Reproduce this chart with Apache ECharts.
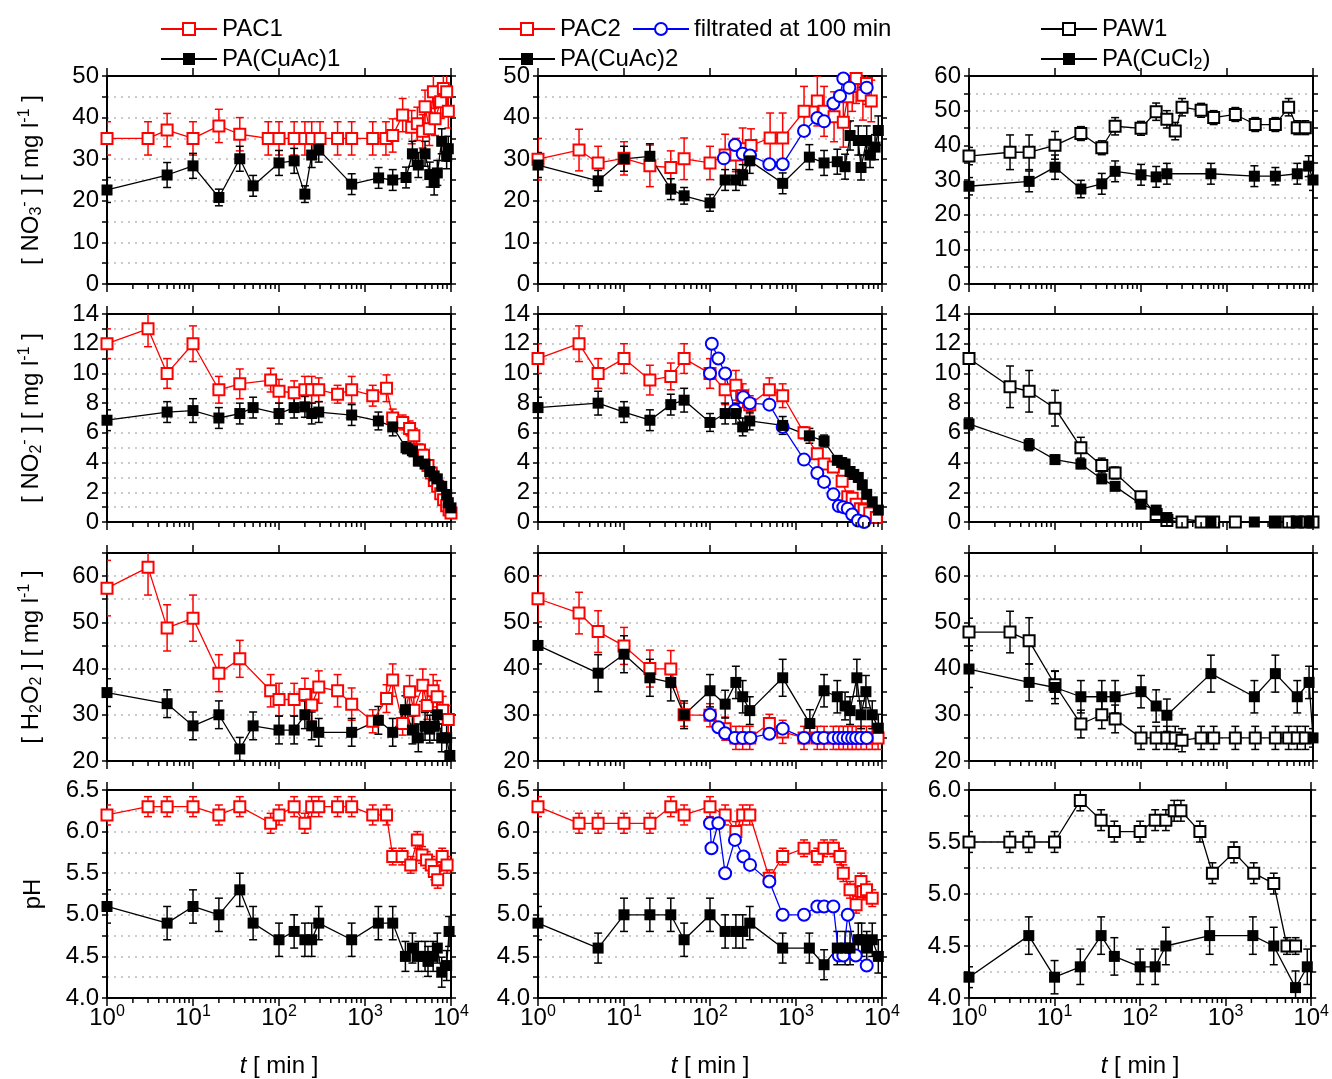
<!DOCTYPE html>
<html>
<head>
<meta charset="utf-8">
<script src="https://cdn.jsdelivr.net/npm/echarts@6/dist/echarts.min.js"></script>
<style>
html, body { margin: 0; padding: 0; background: #fff; }
#chart { width: 1332px; height: 1079px; }
</style>
</head>
<body>
<div id="chart"></div>
<script>
// ---- data: [time (min), value, error] ----
// nitrate
const no3_pac1 = [[1,35,4],[3,35,4],[5,37,4],[10,35,4],[20,38,4],[35,36,4],[75,35,4],[100,35,4],[150,35,4],[200,35,4],[240,35,4],[300,35,4],[480,35,4],[700,35,4],[1230,35,4],[1750,35,4],[2100,35.7,4],[2740,40.6,4],[3490,37.7,4],[4060,38.5,4],[4690,36.7,4],[4990,42.6,4],[5600,37.3,4],[6240,46.2,4],[6520,39.7,4],[7590,43.8,4],[8150,47,4],[8910,46.2,4],[9310,41.5,4]];
const no3_cuac1 = [[1,22.6,3],[5,26.2,3],[10,28.4,3],[20,20.8,2],[35,30.1,3],[50,23.6,2.5],[100,29.1,3],[150,29.6,3],[200,21.6,2],[240,31,3],[290,32.3,3],[700,24,2.5],[1440,25.5,2.5],[2100,25,2.5],[3000,25.6,2.5],[3560,31.3,3],[4170,28.6,3],[4990,31.3,3],[5660,26.3,3],[6370,24.4,3],[6930,26.7,3],[7800,34.3,3],[8900,30.7,3],[9300,32.5,3]];
const no3_pac2 = [[1,30,5],[3,32.2,5],[5,29.1,4],[10,30.2,4],[20,28.4,5],[35,28,4],[50,30.1,5],[100,29.1,4],[150,31,5],[200,31,4],[240,32.5,5],[300,33.3,4],[500,35.1,6],[700,35.1,6],[1240,41.5,6],[1770,44,6],[2120,41.5,6],[2770,40.2,6],[3550,38.9,6],[4000,45,6],[4500,47.5,6],[5000,49.4,6],[6000,45.4,6],[6600,48.2,5],[7500,44,5]];
const no3_filt = [[145,30.2],[195,33.4],[240,31.3],[292,30.9],[490,28.8],[700,28.8],[1240,36.8],[1770,39.9],[2120,39.1],[2720,43.4],[3250,45.2],[3550,49.4],[4170,47.2],[6640,47.2]];
const no3_cuac2 = [[1,28.6,3],[5,24.8,2.5],[10,30.1,3],[20,30.7,3],[35,22.8,2.5],[50,21.2,2],[100,19.5,2],[150,25,2.5],[200,25,2.5],[240,26.2,2.5],[290,29.6,3],[700,24.2,2.5],[1430,30.5,3],[2120,29.1,3],[3020,29.4,3],[3720,28.2,3],[4250,35.7,3.5],[5300,34.5,3.5],[5700,28,3],[6640,34.5,3.5],[7250,31,3],[8300,32.9,3],[9060,36.9,3.5]];
const no3_paw1 = [[1,36.9,2.5],[3,38,5],[5,38,5],[10,40,4],[20,43.4,2],[35,39.3,2],[50,45.5,2.5],[100,44.9,2],[150,49.7,2.5],[200,47.5,2.5],[250,44.1,2.5],[300,51,2.5],[500,50.1,2],[700,48,2],[1250,48.9,2],[2130,46,2],[3650,46,2],[5210,51,2.5],[6560,45.1,2],[8130,45.1,2]];
const no3_cucl2 = [[1,28.2,2.5],[5,29.6,3],[10,33.7,3.5],[20,27.4,2.5],[35,28.9,3],[50,32.5,3],[100,31.5,3],[150,30.9,3],[200,31.8,3],[650,31.8,3],[2080,31.1,3],[3650,31.1,2.5],[6560,31.8,3],[8900,34,3],[10000,30,3]];

// nitrite
const no2_pac1 = [[1,12,1],[3,13,1.2],[5,10,1],[10,12,1.2],[20,8.9,0.9],[35,9.3,1],[80,9.55,0.8],[100,8.8,0.8],[150,8.7,0.8],[200,8.9,0.9],[240,8.9,0.9],[290,8.9,0.8],[480,8.6,0.6],[700,8.9,0.9],[1230,8.5,0.7],[1780,9,0.9],[2100,7,0.6],[2740,6.7,0.5],[3300,6.3,0.5],[3700,5.8,0.5],[4300,4.85,0.4],[4800,4.5,0.4],[5400,3.8,0.3],[5900,3.3,0.3],[6400,2.8,0.3],[7000,2.4,0.3],[7600,1.9,0.2],[8200,1.5,0.2],[8900,1.1,0.2],[9500,0.8,0.2],[10000,0.6,0.2]];
const no2_cuac1 = [[1,6.85,0.7],[5,7.4,0.7],[10,7.5,0.8],[20,7,0.7],[35,7.3,0.7],[50,7.7,0.7],[100,7.3,0.7],[150,7.7,0.7],[200,7.75,0.7],[240,7.3,0.7],[290,7.4,0.7],[700,7.2,0.7],[1430,6.8,0.6],[2100,6.4,0.6],[3000,5,0.4],[3560,4.8,0.4],[4170,4.1,0.3],[4990,3.9,0.3],[5660,3.4,0.3],[6370,3.1,0.3],[6930,2.9,0.3],[7800,2.4,0.3],[8900,1.85,0.2],[9300,1.3,0.2],[10000,0.95,0.2]];
const no2_pac2 = [[1,11,1],[3,12,1.2],[5,10,1],[10,11,1],[20,9.55,1],[35,9.8,0.9],[50,11,1],[100,10,1],[150,8.9,1],[200,9.2,1],[240,8.5,0.8],[290,7.9,0.6],[490,8.9,0.8],[700,8.5,0.8],[1240,6,0.4],[1770,4.6,0.3],[2120,3.9,0.3],[2720,3.7,0.3],[3440,2.75,0.3],[4000,1.7,0.2],[4500,1.6,0.2],[5000,1.2,0.2],[5600,0.9,0.2],[6200,0.8,0.2],[7200,0.6,0.2],[8600,0.3,0.2]];
const no2_filt = [[100,10],[105,12],[125,11],[150,10],[195,7.5],[244,8.4],[290,8],[490,7.9],[700,6.4],[1240,4.2],[1770,3.3],[2120,2.7],[2720,1.86],[3150,1.07],[3550,1],[4000,0.9],[4500,0.5],[5260,0.1],[6200,0]];
const no2_cuac2 = [[1,7.7,0.7],[5,8,0.8],[10,7.4,0.7],[20,6.85,0.7],[35,7.9,0.7],[50,8.2,0.8],[100,6.7,0.6],[150,7.3,0.7],[200,7.3,0.7],[240,6.4,0.6],[290,6.8,0.6],[700,6.5,0.6],[1430,5.8,0.5],[2120,5.45,0.4],[3020,4.15,0.3],[3400,4,0.3],[3720,3.9,0.3],[4250,3.4,0.3],[4700,3.2,0.3],[5300,3,0.3],[5900,2.5,0.3],[6640,1.86,0.2],[7700,1.36,0.2],[9060,0.8,0.2]];
const no2_paw1 = [[1,11,0],[3,9.1,1.4],[5,8.8,1.4],[10,7.66,1.2],[20,5,0.7],[35,3.8,0.5],[50,3.3,0.4],[100,1.7,0.3],[150,0.5,0.2],[200,0.1,0],[300,0,0],[500,0,0],[700,0,0],[1250,0,0],[3650,0,0],[5210,0,0],[6560,0,0],[8130,0,0],[10000,0,0]];
const no2_cucl2 = [[1,6.6,0.4],[5,5.2,0.4],[10,4.2,0.3],[20,3.9,0.3],[35,2.9,0.2],[50,2.4,0.2],[100,1.2,0.2],[150,0.8,0.2],[200,0.3,0.1],[650,0,0],[2080,0,0],[3650,0,0],[6560,0,0],[9000,0,0]];

// hydrogen peroxide
const h2o2_pac1 = [[1,57.4,6],[3,61.9,6],[5,48.8,5],[10,50.9,5],[20,39,4],[35,42.1,4],[80,35.2,3.5],[100,33.3,3.5],[150,33.3,3.5],[200,34.4,3.5],[240,32.1,3.5],[290,36,3.5],[480,35.2,3.5],[700,32.3,3.5],[1230,28.6,2.5],[1780,33.5,3],[2100,37.5,3.5],[2740,28.1,2.5],[3300,35,3.5],[3700,31,3],[4700,36.4,3.5],[5300,32,3],[6200,35.2,3.5],[6900,33.9,3.5],[8000,31,3],[9300,29,3]];
const h2o2_cuac1 = [[1,34.8,3],[5,32.4,3],[10,27.6,3],[20,30,3],[35,22.6,2.5],[50,27.6,3],[100,26.7,3],[150,26.7,3],[200,30,3],[240,27.6,3],[290,26.2,3],[700,26.2,3],[1430,28.8,3],[2100,26.2,3],[2950,31.1,3],[3560,26.7,3],[4170,25,3],[4990,27.5,3],[5660,26.9,3],[6370,27.5,3],[6930,30,3],[7800,25,3],[8900,25,3],[9700,21.2,3]];
const h2o2_pac2 = [[1,55.1,5],[3,52,4.5],[5,48,4.5],[10,44.9,4],[20,40,4],[35,39.9,4],[50,30,2.5],[100,29.9,2.5],[150,27,2.5],[200,25,2.5],[240,25,2.5],[290,25,2.5],[490,28.1,2],[700,26.3,2.5],[1240,25,2.5],[1770,25,2.5],[2120,25,2.5],[2720,25,2.5],[3150,25,2.5],[3550,25,2.5],[4000,25,2.5],[4500,25,2.5],[5000,25,2.5],[5700,25,2.5],[6600,25,2.5],[7700,25,2.5],[9000,25,2.5]];
const h2o2_filt = [[100,30],[125,27.3],[150,26],[195,25],[240,25],[295,25],[490,25.9],[700,27],[1240,25],[1770,25],[2120,25],[2720,25],[3150,25],[3550,25],[4000,25],[4500,25],[5000,25],[5700,25],[6640,25]];
const h2o2_cuac2 = [[1,45,4],[5,39,4],[10,43.1,4],[20,38,4],[35,37,4],[50,30,3],[100,35.2,3.5],[150,32.3,3],[200,37,3.5],[240,33.9,3.5],[290,30.9,3],[700,38,4],[1450,28.1,3],[2120,35.2,3.5],[3020,33.9,3.5],[3720,31.9,3],[4250,30.9,3],[5100,38,4],[5700,30,3],[6500,35,3.5],[7700,30,3],[9060,27.1,3]];
const h2o2_paw1 = [[1,47.9,3],[3,47.9,4.5],[5,46,5],[10,36.5,3],[20,28,3],[35,30,3],[50,29.1,3],[100,25,2.5],[150,25,2.5],[200,25,2.5],[250,25,2.5],[300,24.5,2.5],[500,25,2.5],[700,25,2.5],[1250,25,2.5],[2130,25,2.5],[3650,25,2.5],[5210,25,2.5],[6560,25,2.5],[8130,25,2.5]];
const h2o2_cucl2 = [[1,39.9,4],[5,37,4],[10,35.9,3.5],[20,33.9,3.5],[35,33.9,3.5],[50,33.9,3.5],[100,35,3.5],[150,31.9,3.5],[200,29.9,3.5],[650,38.9,4],[2080,33.9,3.5],[3650,38.9,4],[6560,33.9,3.5],[9000,37,3.5],[10000,25,2]];

// pH
const ph_pac1 = [[1,6.2,0.12],[3,6.3,0.12],[5,6.3,0.12],[10,6.3,0.12],[20,6.2,0.12],[35,6.3,0.12],[80,6.1,0.12],[100,6.2,0.12],[150,6.3,0.12],[200,6.1,0.12],[240,6.3,0.12],[290,6.3,0.12],[480,6.3,0.12],[700,6.3,0.12],[1230,6.2,0.12],[1780,6.2,0.12],[2100,5.7,0.1],[2700,5.7,0.1],[3400,5.6,0.1],[4060,5.9,0.1],[4600,5.72,0.1],[5200,5.66,0.1],[5900,5.6,0.1],[6400,5.52,0.1],[7000,5.42,0.1],[7900,5.7,0.1],[9000,5.6,0.1]];
const ph_cuac1 = [[1,5.1,0.2],[5,4.9,0.2],[10,5.1,0.2],[20,5,0.2],[35,5.3,0.2],[50,4.9,0.2],[100,4.7,0.2],[150,4.8,0.2],[200,4.7,0.2],[240,4.7,0.2],[290,4.9,0.2],[700,4.7,0.2],[1430,4.9,0.2],[2100,4.9,0.2],[2950,4.5,0.18],[3560,4.6,0.18],[4170,4.5,0.18],[4990,4.5,0.18],[5400,4.44,0.18],[6200,4.5,0.18],[6930,4.6,0.18],[7800,4.31,0.18],[8900,4.39,0.18],[9500,4.8,0.18]];
const ph_pac2 = [[1,6.3,0.12],[3,6.1,0.12],[5,6.1,0.12],[10,6.1,0.12],[20,6.1,0.12],[35,6.3,0.12],[50,6.2,0.12],[100,6.3,0.12],[150,6.2,0.12],[200,6,0.12],[240,6.2,0.12],[290,6.2,0.12],[490,5.44,0.1],[700,5.7,0.1],[1240,5.8,0.1],[1770,5.7,0.1],[2120,5.8,0.1],[2720,5.8,0.1],[3250,5.7,0.1],[3550,5.5,0.1],[4250,5.3,0.1],[5000,5.12,0.1],[5700,5.4,0.1],[6000,5.28,0.1],[6600,5.3,0.1],[7700,5.2,0.1]];
const ph_filt = [[100,6.1],[104,5.8],[125,6.1],[150,5.5],[195,5.9],[245,5.7],[292,5.6],[490,5.4],[700,5],[1240,5],[1770,5.1],[2120,5.1],[2720,5.1],[3150,4.51],[3550,4.51],[4000,5],[4950,4.51],[6640,4.39]];
const ph_cuac2 = [[1,4.9,0.2],[5,4.6,0.18],[10,5,0.2],[20,5,0.2],[35,5,0.2],[50,4.7,0.2],[100,5,0.2],[150,4.8,0.2],[200,4.8,0.2],[240,4.8,0.2],[290,4.9,0.2],[700,4.6,0.18],[1430,4.6,0.18],[2120,4.4,0.18],[3020,4.6,0.2],[3720,4.6,0.2],[4250,4.6,0.2],[5300,4.7,0.2],[5800,4.7,0.2],[6640,4.6,0.2],[7700,4.7,0.2],[9060,4.5,0.2]];
const ph_paw1 = [[1,5.5,0.1],[3,5.5,0.1],[5,5.5,0.1],[10,5.5,0.1],[20,5.9,0.1],[35,5.71,0.1],[50,5.6,0.1],[100,5.6,0.1],[150,5.71,0.1],[200,5.71,0.1],[250,5.8,0.1],[300,5.8,0.1],[500,5.6,0.1],[700,5.2,0.1],[1250,5.4,0.1],[2130,5.2,0.1],[3650,5.1,0.1],[5210,4.5,0.08],[6560,4.5,0.08]];
const ph_cucl2 = [[1,4.2,0.1],[5,4.6,0.18],[10,4.2,0.16],[20,4.3,0.17],[35,4.6,0.18],[50,4.4,0.18],[100,4.3,0.17],[150,4.3,0.17],[200,4.5,0.18],[650,4.6,0.18],[2080,4.6,0.18],[3650,4.5,0.18],[6560,4.1,0.16],[9000,4.3,0.17]];

// minor ticks of the log time axis
const minorTicks = [2,3,4,5,6,7,8,9,20,30,40,50,60,70,80,90,200,300,400,500,600,700,800,900,2000,3000,4000,5000,6000,7000,8000,9000];

// ---- layout ----
const FONT = 'Liberation Sans, Arial, Helvetica, sans-serif';
const lefts = [107, 538, 969];
const tops = [76, 314, 553, 790];
const W = 344, H = 208;

const rows = [
  { min: 0, max: [50, 50, 60], step: 5, lab: 10, dec: 0, title: '[ NO{sub|3}{sup|-} ] [ mg l{sup|-1} ]' },
  { min: 0, max: [14, 14, 14], step: 1, lab: 2, dec: 0, title: '[ NO{sub|2}{sup|-} ] [ mg l{sup|-1} ]' },
  { min: 20, max: [65, 65, 65], step: 5, lab: 10, dec: 0, title: '[ H{sub|2}O{sub|2} ] [ mg l{sup|-1} ]' },
  { min: 4, max: [6.5, 6.5, 6], step: 0.25, lab: 0.5, dec: 1, title: 'pH' }
];

const panels = [
  [
    [['PAC1', no3_pac1, 'red'], ['PA(CuAc)1', no3_cuac1, 'black']],
    [['PAC2', no3_pac2, 'red'], ['filtrated at 100 min', no3_filt, 'blue'], ['PA(CuAc)2', no3_cuac2, 'black']],
    [['PAW1', no3_paw1, 'open'], ['PA(CuCl2)', no3_cucl2, 'black']]
  ],
  [
    [['PAC1', no2_pac1, 'red'], ['PA(CuAc)1', no2_cuac1, 'black']],
    [['PAC2', no2_pac2, 'red'], ['filtrated at 100 min', no2_filt, 'blue'], ['PA(CuAc)2', no2_cuac2, 'black']],
    [['PAW1', no2_paw1, 'open'], ['PA(CuCl2)', no2_cucl2, 'black']]
  ],
  [
    [['PAC1', h2o2_pac1, 'red'], ['PA(CuAc)1', h2o2_cuac1, 'black']],
    [['PAC2', h2o2_pac2, 'red'], ['filtrated at 100 min', h2o2_filt, 'blue'], ['PA(CuAc)2', h2o2_cuac2, 'black']],
    [['PAW1', h2o2_paw1, 'open'], ['PA(CuCl2)', h2o2_cucl2, 'black']]
  ],
  [
    [['PAC1', ph_pac1, 'red'], ['PA(CuAc)1', ph_cuac1, 'black']],
    [['PAC2', ph_pac2, 'red'], ['filtrated at 100 min', ph_filt, 'blue'], ['PA(CuAc)2', ph_cuac2, 'black']],
    [['PAW1', ph_paw1, 'open'], ['PA(CuCl2)', ph_cucl2, 'black']]
  ]
];

const STY = {
  red:   { color: '#ff0000', symbol: 'emptyRect', size: 11 },
  black: { color: '#000000', symbol: 'rect', size: 11 },
  open:  { color: '#000000', symbol: 'emptyRect', size: 11 },
  blue:  { color: '#0000ff', symbol: 'emptyCircle', size: 12 }
};

const rich = {
  sup: { fontSize: 16, fontFamily: FONT, color: '#000', padding: [0, 0, 12, 0] },
  sub: { fontSize: 16, fontFamily: FONT, color: '#000', padding: [12, 0, 0, 0] },
  i: { fontSize: 24, fontFamily: FONT, color: '#000', fontStyle: 'italic' }
};

function renderErr(params, api) {
  const t = api.value(0), v = api.value(1), e = api.value(2);
  if (!(e > 0)) return;
  const a = api.coord([t, v + e]);
  const b = api.coord([t, v - e]);
  const st = { stroke: api.visual('color'), lineWidth: 1.5 };
  return {
    type: 'group',
    children: [
      { type: 'line', shape: { x1: a[0], y1: a[1], x2: b[0], y2: b[1] }, style: st },
      { type: 'line', shape: { x1: a[0] - 4, y1: a[1], x2: a[0] + 4, y2: a[1] }, style: st },
      { type: 'line', shape: { x1: b[0] - 4, y1: b[1], x2: b[0] + 4, y2: b[1] }, style: st }
    ]
  };
}

function minorTickRenderer(yMin) {
  return function (params, api) {
    const p = api.coord([api.value(0), yMin]);
    return { type: 'line', shape: { x1: p[0], y1: p[1], x2: p[0], y2: p[1] + 5 }, style: { stroke: '#000', lineWidth: 1.5 } };
  };
}

const grid = [], xAxis = [], yAxis = [], series = [];

for (let r = 0; r < 4; r++) {
  for (let c = 0; c < 3; c++) {
    const g = r * 3 + c;
    const cfg = rows[r];
    const yMax = cfg.max[c];
    grid.push({ left: lefts[c], top: tops[r], width: W, height: H, containLabel: false });

    const axLine = { show: true, onZero: false, lineStyle: { color: '#000', width: 2 } };
    xAxis.push({
      type: 'log', logBase: 10, min: 1, max: 10000, gridIndex: g, position: 'bottom',
      axisLine: axLine,
      axisTick: { show: true, length: 8, lineStyle: { color: '#000', width: 1.5 } },
      axisLabel: {
        show: r === 3, color: '#000', fontSize: 24, fontFamily: FONT, margin: 6,
        formatter: v => '10{sup|' + Math.round(Math.log10(v)) + '}', rich
      },
      splitLine: { show: false },
      name: r === 3 ? '{i|t} [ min ]' : '',
      nameLocation: 'middle', nameGap: 56,
      nameTextStyle: { color: '#000', fontSize: 24, fontFamily: FONT, rich }
    });
    xAxis.push({
      type: 'log', logBase: 10, min: 1, max: 10000, gridIndex: g, position: 'top',
      axisLine: axLine,
      axisTick: { show: true, length: 8, lineStyle: { color: '#000', width: 1.5 } },
      axisLabel: { show: false },
      splitLine: { show: false }
    });

    const yLabel = v => {
      const k = (v - cfg.min) / cfg.lab;
      if (Math.abs(k - Math.round(k)) > 1e-6) return '';
      return cfg.dec ? v.toFixed(cfg.dec) : String(Math.round(v));
    };
    yAxis.push({
      type: 'value', gridIndex: g, position: 'left', min: cfg.min, max: yMax, interval: cfg.step,
      axisLine: axLine,
      axisTick: { show: true, length: 5, lineStyle: { color: '#000', width: 1.5 } },
      axisLabel: { color: '#000', fontSize: 24, fontFamily: FONT, margin: 8, formatter: yLabel },
      splitLine: { show: true, lineStyle: { color: '#bbbbbb', width: 1.5, type: [2, 5] } },
      name: c === 0 ? cfg.title : '',
      nameLocation: 'middle', nameRotate: 90, nameGap: 62,
      nameTextStyle: { color: '#000', fontSize: 24, fontFamily: FONT, rich }
    });
    yAxis.push({
      type: 'value', gridIndex: g, position: 'right', min: cfg.min, max: yMax, interval: cfg.step,
      axisLine: axLine,
      axisTick: { show: true, length: 5, lineStyle: { color: '#000', width: 1.5 } },
      axisLabel: { show: false },
      splitLine: { show: false }
    });

    const xi = 2 * g, yi = 2 * g;

    series.push({
      type: 'custom', name: 'minor-' + g, xAxisIndex: xi, yAxisIndex: yi,
      data: minorTicks.map(t => [t, cfg.min]), encode: { x: 0, y: 1 },
      renderItem: minorTickRenderer(cfg.min), silent: true, clip: false, z: 5
    });

    const list = panels[r][c];
    list.forEach(([name, data, kind]) => {
      if (kind === 'blue') return;
      series.push({
        type: 'custom', name: name + ' err', xAxisIndex: xi, yAxisIndex: yi,
        data: data, encode: { x: 0, y: 1 },
        itemStyle: { color: STY[kind].color },
        renderItem: renderErr, clip: true, silent: true, z: 2
      });
    });
    list.forEach(([name, data, kind]) => {
      const s = STY[kind];
      series.push({
        type: 'line', name: name, xAxisIndex: xi, yAxisIndex: yi,
        data: data.map(d => [d[0], d[1]]),
        symbol: s.symbol, symbolSize: s.size, showAllSymbol: true,
        color: s.color,
        itemStyle: { color: s.color, borderWidth: 1.5 },
        lineStyle: { color: s.color, width: 1.3 },
        clip: true, z: 3, silent: true
      });
    });
  }
}

const legendBase = {
  itemWidth: 56, itemHeight: 15, padding: 0, selectedMode: false, itemGap: 10,
  textStyle: { color: '#000', fontSize: 24, fontFamily: FONT, rich: { sub: rich.sub } },
  formatter: n => n === 'PA(CuCl2)' ? 'PA(CuCl{sub|2})' : n
};
const legend = [
  { data: ['PAC1'], left: 160, top: 17 },
  { data: ['PA(CuAc)1'], left: 160, top: 47 },
  { data: ['PAC2'], left: 498, top: 17 },
  { data: ['filtrated at 100 min'], left: 632, top: 17 },
  { data: ['PA(CuAc)2'], left: 498, top: 47 },
  { data: ['PAW1'], left: 1040, top: 17 },
  { data: ['PA(CuCl2)'], left: 1040, top: 47 }
].map(l => Object.assign({}, legendBase, l));

const chart = echarts.init(document.getElementById('chart'));
chart.setOption({
  backgroundColor: '#fff',
  animation: false,
  textStyle: { fontFamily: FONT },
  legend, grid, xAxis, yAxis, series
});
</script>
</body>
</html>
